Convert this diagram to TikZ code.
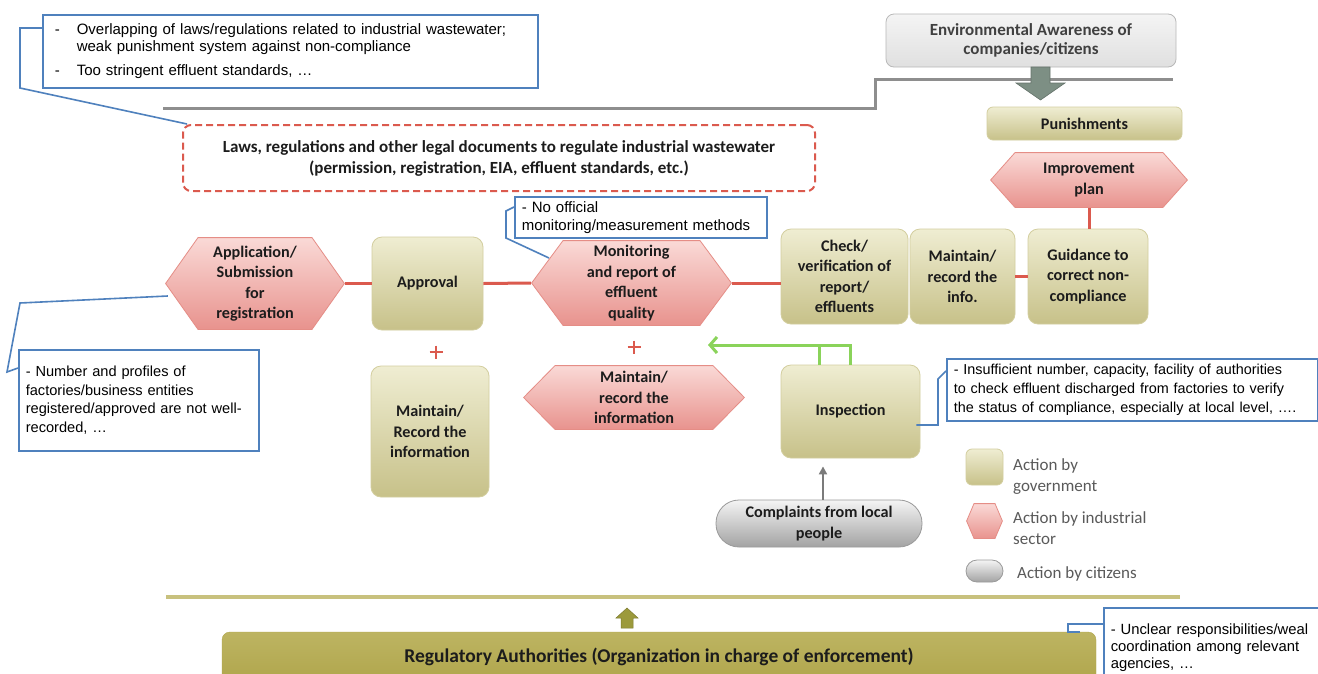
\documentclass[tikz,border=0pt]{standalone}
\usepackage{fontspec}
\setmainfont{Liberation Sans}
\newfontfamily\calib{Carlito}
\usetikzlibrary{arrows.meta,calc}
\definecolor{olvT}{HTML}{EFEDD2}
\definecolor{olvB}{HTML}{C7C189}
\definecolor{olvD}{HTML}{D3CE9F}
\definecolor{pnkT}{HTML}{FADAD7}
\definecolor{pnkB}{HTML}{E8928D}
\definecolor{pnkD}{HTML}{E58D86}
\definecolor{gryT}{HTML}{F4F4F4}
\definecolor{gryB}{HTML}{A3A3A3}
\definecolor{gryD}{HTML}{9A9A9A}
\definecolor{redln}{HTML}{DB5A4E}
\definecolor{callblue}{HTML}{4F81BD}
\definecolor{grnln}{HTML}{8AD35A}
\definecolor{sepgrey}{HTML}{8E8E8E}
\definecolor{olvline}{HTML}{C8C17E}
\definecolor{regT}{HTML}{BDB462}
\definecolor{regB}{HTML}{B0A64C}
\definecolor{arrgrey}{HTML}{7D8F84}
\definecolor{arrolv}{HTML}{9C9A3C}
\definecolor{txt}{HTML}{1C1C1C}
\definecolor{legtxt}{HTML}{5A5A5A}
\definecolor{envtxt}{HTML}{404040}
\newcommand\labfont{\calib\bfseries\fontsize{16.2}{20.5}\selectfont}
\tikzset{
  gov/.style={rectangle, rounded corners=10pt, draw=olvD, line width=0.8pt,
    top color=olvT, bottom color=olvB, align=center, font=\labfont, text=txt, inner sep=1pt},
  ind/.style={rectangle, draw=none, align=center, font=\labfont, text=txt, inner sep=1pt,
    path picture={\shadedraw[top color=pnkT, bottom color=pnkB, draw=pnkD, line width=0.8pt]
      ([xshift=0.6pt]path picture bounding box.west)
      -- ([xshift=#1, yshift=-0.6pt]path picture bounding box.north west)
      -- ([xshift=-#1, yshift=-0.6pt]path picture bounding box.north east)
      -- ([xshift=-0.6pt]path picture bounding box.east)
      -- ([xshift=-#1, yshift=0.6pt]path picture bounding box.south east)
      -- ([xshift=#1, yshift=0.6pt]path picture bounding box.south west) -- cycle;}},
  cit/.style={rectangle, rounded corners=#1, draw=gryD, line width=0.8pt,
    top color=gryT, bottom color=gryB, align=center, font=\labfont, text=txt, inner sep=1pt},
  callout/.style={rectangle, draw=callblue, line width=1.6pt, fill=white, align=left,
    text=black, anchor=north west},
  callline/.style={draw=callblue, line width=1.6pt},
  redc/.style={draw=redln, line width=3pt},
  legtext/.style={anchor=west, align=left, font=\calib\fontsize{17}{21}\selectfont, text=legtxt, inner sep=0pt}
}
\begin{document}
\begin{tikzpicture}[x=1pt,y=-1pt]
\useasboundingbox (0,0) rectangle (1318,673);
\fill[white] (0,0) rectangle (1318,673);

% separator lines
\draw[sepgrey, line width=3pt] (163,108) -- (875,108) -- (875,79) -- (1173,79);
\draw[olvline, line width=4pt] (166,597) -- (1180,597);

% top right
\node[rectangle, rounded corners=8pt, draw=gryD!70, line width=0.8pt, top color=gryT, bottom color=gryT!75!gryB,
  minimum width=290pt, minimum height=53pt, align=center, text=envtxt,
  font=\calib\bfseries\fontsize{17}{19}\selectfont] (env) at (1031,40.5)
  {Environmental Awareness of\\companies/citizens};
\fill[arrgrey, draw=arrgrey!80!black, line width=0.6pt] (1031,67) -- (1050,67) -- (1050,83) -- (1065,83)
  -- (1040.5,100) -- (1016,83) -- (1031,83) -- cycle;
\node[gov, rounded corners=6pt, minimum width=195pt, minimum height=33pt] (pun) at (1084.5,123.5) {Punishments};
\node[ind=25pt, minimum width=198pt, minimum height=56pt] (imp) at (1089,180) {Improvement\\plan};

% laws
\node[rectangle, rounded corners=8pt, draw=redln, dashed, dash pattern=on 7pt off 4pt, line width=2pt,
  minimum width=632pt, minimum height=66pt, align=center, text=txt,
  font=\calib\bfseries\fontsize{17}{21}\selectfont] (laws) at (499,158)
  {Laws, regulations and other legal documents to regulate industrial wastewater\\(permission, registration, EIA, effluent standards, etc.)};

% main row
\node[ind=33pt, minimum width=180pt, minimum height=93pt] (app) at (255,283.5) {Application/\\Submission\\for\\registration};
\node[gov, minimum width=111pt, minimum height=93pt] (apv) at (427.5,283.5) {Approval};
\node[ind=32pt, minimum width=201pt, minimum height=86pt] (mon) at (631.5,283) {Monitoring\\and report of\\effluent\\quality};
\node[gov, minimum width=127pt, minimum height=95pt] (chk) at (844.5,276.5) {Check/\\verification of\\report/\\effluents};
\node[gov, minimum width=105pt, minimum height=95pt] (mt1) at (962.5,276.5) {Maintain/\\record the\\info.};
\node[gov, minimum width=120pt, minimum height=95pt] (gui) at (1088,276.5) {Guidance to\\correct non-\\compliance};

\draw[redc] (app.east) -- (apv.west);
\draw[redc] (apv.east) -- (mon.west);
\draw[redc] (mon.east) -- (mon.east -| chk.west);
\draw[redc] (mt1.east) -- (gui.west);
\draw[redc] (imp.south) -- (imp.south |- gui.north);

% second row
\draw[redln, line width=2pt] (429.5,352) -- (442.5,352) (436,345.5) -- (436,358.5);
\draw[redln, line width=2pt] (627.5,347) -- (640.5,347) (634,340.5) -- (634,353.5);
\node[gov, minimum width=118pt, minimum height=131pt] (mt2) at (430,431.5) {Maintain/\\Record the\\information};
\node[ind=32pt, minimum width=222pt, minimum height=65pt] (mt3) at (634,397.5) {Maintain/\\record the\\information};
\node[gov, minimum width=139pt, minimum height=93pt] (ins) at (850.5,411.5) {Inspection};
\node[cit=23pt, minimum width=206pt, minimum height=47pt] (cmp) at (819,523.5) {Complaints from local\\people};

\coordinate (g) at (708,345);
\draw[grnln, line width=3pt] ([xshift=-31pt]ins.north) -- ([xshift=-31pt]ins.north |- g);
\draw[grnln, line width=3pt, -{Straight Barb[length=7pt,width=16pt,line width=3pt]}] (ins.north) -- (ins.north |- g) -- (g);
\draw[gryD!80!black, line width=2pt, -{Triangle[length=8pt,width=8pt]}] ($(cmp.north)+(4pt,0pt)$) -- ($(cmp.north |- ins.south)+(4pt,-8pt)$);

% legend
\node[gov, rounded corners=6pt, minimum width=37pt, minimum height=36pt] (lg1) at (984.5,467) {};
\node[legtext] (lt1) at (1013,476.5) {Action by\\government};
\node[ind=8pt, minimum width=37pt, minimum height=36pt] (lg2) at (984.5,521) {};
\node[legtext] (lt2) at (1013,528) {Action by industrial\\sector};
\node[cit=11pt, minimum width=37pt, minimum height=22pt] (lg3) at (984.5,571) {};
\node[legtext] (lt3) at (1017,574) {Action by citizens};

% bottom
\node[rectangle, rounded corners=8pt, top color=regT, bottom color=regB, draw=regB,
  minimum width=874pt, minimum height=50pt] (reg) at (659,657) {};
\node[text=txt, font=\calib\bfseries\fontsize{19.5}{22}\selectfont, inner sep=0pt] (regt) at (659,657)
  {Regulatory Authorities (Organization in charge of enforcement)};
\fill[arrolv, draw=arrolv!80!black, line width=0.5pt] (627,608) -- (638,618) -- (633,618) -- (633,628)
  -- (621,628) -- (621,618) -- (616,618) -- cycle;

% callouts
\node[callout, minimum width=495pt, minimum height=73pt, text width=471pt, inner xsep=12pt,
  font=\fontsize{15}{17}\selectfont] (c1) at (42,14)
  {\makebox[22pt][l]{-}Overlapping of laws/regulations related to industrial wastewater;\\
   \hspace*{22pt}weak punishment system against non-compliance\\[7pt]
   \makebox[22pt][l]{-}Too stringent effluent standards, …};
\draw[callline] (c1.west |- 0,28) -- (20,28) -- (20,88) -- ([xshift=5pt]laws.north west);

\node[callout, minimum width=252pt, minimum height=41pt, text width=238pt, inner xsep=7pt, inner ysep=2pt,
  font=\fontsize{15}{18}\selectfont] (c2) at (514,196)
  {- No official\\monitoring/measurement methods};
\draw[callline] (c2.west |- 0,207) -- (506,211) -- (506,238) -- (549,258);

\node[callout, minimum width=240pt, minimum height=101pt, text width=226pt, inner xsep=7pt,
  font=\fontsize{14.6}{18.5}\selectfont] (c3) at (18,349)
  {- Number and profiles of\\factories/business entities\\registered/approved are not well-\\recorded, …};
\draw[callline] (c3.west |- 0,368) -- (7,372) -- (20,303) -- ([xshift=3pt]app.west |- 0,296);

\node[callout, minimum width=371pt, minimum height=62pt, text width=357pt, inner xsep=7pt,
  font=\fontsize{14.4}{19}\selectfont] (c4) at (946,358)
  {- Insufficient number, capacity, facility of authorities\\to check effluent discharged from factories to verify\\the status of compliance, especially at local level, ….};
\draw[callline] (c4.west |- 0,371) -- (938,379) -- (938,425) -- ([xshift=-4pt]ins.east |- 0,425);

\node[callout, minimum width=230pt, minimum height=80pt, text width=216pt, inner xsep=7pt,
  font=\fontsize{14.8}{17}\selectfont] (c5) at (1103,607)
  {- Unclear responsibilities/weal\\coordination among relevant\\agencies, …};
\draw[callline] (c5.west |- 0,624) -- (1068,624) -- (1068,632) -- (1080,632);
\end{tikzpicture}
\end{document}
